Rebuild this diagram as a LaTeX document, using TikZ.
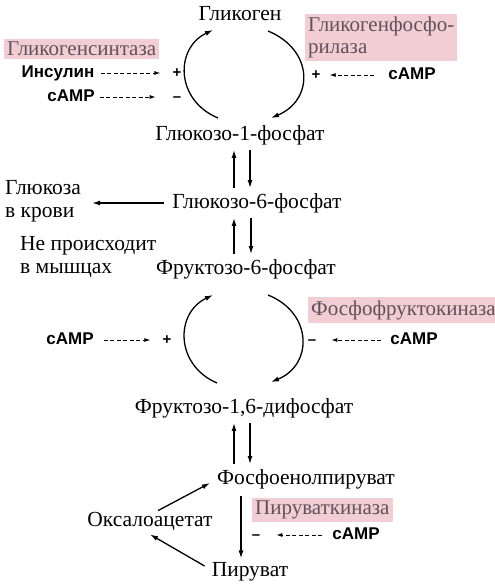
\documentclass[tikz,border=0pt]{standalone}
\usepackage{fontspec}
\setmainfont{Liberation Serif}
\newfontfamily\effectorfont{Liberation Sans}
\usetikzlibrary{arrows.meta, positioning, calc}
\definecolor{EnzymeFill}{RGB}{242,206,212}
\definecolor{EnzymeText}{RGB}{96,82,92}

\begin{document}
\begin{tikzpicture}[
    x=1pt, y=-1pt,
    metab/.style={
        font=\fontsize{21.5}{23}\selectfont, inner sep=1pt
    },
    enzyme/.style={
        fill=EnzymeFill, text=EnzymeText, align=left,
        font=\fontsize{21}{22}\selectfont, inner sep=3pt
    },
    effector/.style={
        font=\effectorfont\bfseries\fontsize{17}{19}\selectfont,
        text height=12pt, text depth=3pt, inner sep=1pt
    },
    sign/.style={
        font=\effectorfont\bfseries\fontsize{15}{17}\selectfont,
        text height=12pt, text depth=3pt, inner sep=1pt
    },
    flow/.style={-{Latex[length=8pt, width=5pt]}, line width=1.3pt},
    signal/.style={
        -{Latex[length=6pt, width=4pt]}, line width=0.9pt,
        dash pattern=on 4pt off 2.5pt
    }
]
\useasboundingbox (0,0) rectangle (495,586);

% --- Metabolites ---
\node[metab] (glycogen) at (240,14)  {Гликоген};
\node[metab] (g1p)      at (240,135) {Глюкозо-1-фосфат};
\node[metab] (g6p)      at (257,203) {Глюкозо-6-фосфат};
\node[metab] (f6p)      at (246,269) {Фруктозо-6-фосфат};
\node[metab] (fbp)      at (244,408) {Фруктозо-1,6-дифосфат};
\node[metab] (pep)      at (306,479) {Фосфоенолпируват};
\node[metab] (oaa)      at (150,521) {Оксалоацетат};
\node[metab] (pyr)      at (250,572) {Пируват};
\node[metab, align=left, anchor=west] (blood)  at (4,201)
    {Глюкоза\\в крови};
\node[metab, align=left, anchor=west] (muscle) at (19,257)
    {Не происходит\\в мышцах};

% --- Enzymes ---
\node[enzyme, anchor=west]       (gsynth) at (4,49)   {Гликогенсинтаза};
\node[enzyme, anchor=north west] (gphos)  at (305,14) {Гликогенфосфо-\\рилаза};
\node[enzyme, anchor=west]       (pfk)    at (308,310) {Фосфофруктокиназа};
\node[enzyme, anchor=west]       (pkin)   at (252,510) {Пируваткиназа};

% --- Effectors and signs ---
\node[effector] (insulin) at (58,73)  {Инсулин};
\node[effector] (camp1)  at (71,97)   {cAMP};
\node[effector] (camp2)  at (412,75)  {cAMP};
\node[effector] (camp3)  at (70,340)  {cAMP};
\node[effector] (camp4)  at (414,340) {cAMP};
\node[effector] (camp5)  at (356,535) {cAMP};
\node[sign] (plus1)  at (177,73)  {+};
\node[sign] (minus1) at (177,97)  {–};
\node[sign] (plus2)  at (316,75)  {+};
\node[sign] (plus3)  at (167,340) {+};
\node[sign] (minus3) at (312,340) {–};
\node[sign] (minus5) at (256,535) {–};

% Arc ends of the two cycles
\coordinate (gsIn)  at (218,118);
\coordinate (gsOut) at (213,30);
\coordinate (gpIn)  at (268,31);
\coordinate (gpOut) at (271,118);
\coordinate (fbIn)  at (217,383);
\coordinate (fbOut) at (213,295);
\coordinate (pfIn)  at (268,295);
\coordinate (pfOut) at (271,382);

% Cycles
\draw[flow] (gsIn) .. controls (175,100) and (175,48) .. (gsOut);
\draw[flow] (gpIn) .. controls (314,50) and (314,100) .. (gpOut);
\draw[flow] (fbIn) .. controls (175,365) and (175,313) .. (fbOut);
\draw[flow] (pfIn) .. controls (313,313) and (313,365) .. (pfOut);

% Reversible steps (up / down pairs)
\foreach \a/\ua/\b/\ub/\da/\db in {
    g6p/-23/g1p/-6/10/-7,
    f6p/-12/g6p/-23/-6/5,
    pep/-72/fbp/-10/6/-56} {
    \draw[flow, shorten <=4pt, shorten >=4pt]
        ($(\a.north)+(\ua,0)$) -- ($(\b.south)+(\ub,0)$);
    \draw[flow, shorten <=4pt, shorten >=4pt]
        ($(\b.south)+(\da,0)$) -- ($(\a.north)+(\db,0)$);
}

% Side branches
\draw[flow, shorten <=7pt, shorten >=10pt] (g6p.west) -- (g6p.west -| blood.east);
\draw[flow] ($(oaa.north)+(8,0)$) -- ($(pep.west)+(-6,4)$);
\draw[flow] ($(pyr.west)+(-6,-6)$) -- ($(oaa.south)+(0,3)$);
\draw[flow, shorten <=6pt, shorten >=3pt]
    ($(pep.south)+(-65,0)$) -- ($(pyr.north)+(-9,0)$);

% Regulation (dashed)
\foreach \a/\b/\s/\e in {
    insulin/plus1/5/11, camp1/minus1/4/16, camp2/plus2/13/8,
    camp3/plus3/9/11, camp4/minus3/8/14, camp5/minus5/9/15} {
    \draw[signal, shorten <=\s pt, shorten >=\e pt] (\a) -- (\b);
}

\end{tikzpicture}
\end{document}
